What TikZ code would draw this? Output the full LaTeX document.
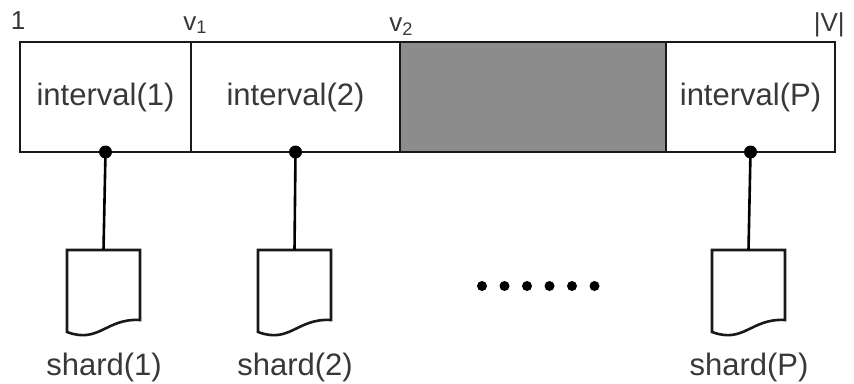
\documentclass[tikz,border=0pt]{standalone}
\usepackage{fontspec}
\setmainfont{Liberation Sans}
\begin{document}
\begin{tikzpicture}[x=1pt,y=-1pt,
  line width=2.6pt,
  cell/.style={draw=black!90, minimum height=110pt, anchor=north west,
    inner sep=0pt, outer sep=0pt, text=black!78,
    font=\fontsize{31}{34}\selectfont},
  joint/.style={circle, fill=black, inner sep=0pt, minimum size=13pt},
  doc/.style={draw=black!90, fill=white, line join=miter},
  label/.style={text=black!78, font=\fontsize{31}{34}\selectfont},
  tick/.style={text=black!78, font=\fontsize{26}{28}\selectfont, inner sep=0pt}]
  \useasboundingbox (0,0) rectangle (854,383);

  % the vertex range split into intervals
  \node[cell, minimum width=171pt] (c1) at (20,42) {interval(1)};
  \node[cell, minimum width=209pt] (c2) at (191,42) {interval(2)};
  \node[cell, minimum width=266pt, fill=black!45] (cg) at (400,42) {};
  \node[cell, minimum width=169pt] (cp) at (666,42) {interval(P)};

  % boundary labels
  \node[tick, anchor=base] (t1) at (18,29) {1};
  \node[tick, anchor=base west] (tv1) at (182,30) {v\textsubscript{1}};
  \node[tick, anchor=base west] (tv2) at (388,31) {v\textsubscript{2}};
  \node[tick, anchor=base east] (tv) at (846,31) {|V|};

  % joints on the lower edge
  \node[joint] (j1) at (c1.south) {};
  \node[joint] (j2) at (c2.south) {};
  \node[joint] (jp) at (cp.south) {};

  % shard documents
  \foreach \n/\x in {1/67, 2/258, P/712} {
    \draw[doc] (\x,250) -- ++(73,0) -- ++(0,70)
      .. controls ++(-34,-2) and ++(32,12) .. ++(-73,12) -- cycle;
    \coordinate (s\n) at ({\x+36.5},250);
    \node[label, anchor=base] (l\n) at ({\x+37},375) {shard(\n)};
  }

  % links from intervals to shards
  \draw (j1.center) -- (s1);
  \draw (j2.center) -- (s2);
  \draw (jp.center) -- (sP);

  % ellipsis
  \foreach \i in {0,...,5}
    \node[circle, fill=black, inner sep=0pt, minimum size=10pt] (e\i) at ({482+22.5*\i},286) {};
\end{tikzpicture}
\end{document}
